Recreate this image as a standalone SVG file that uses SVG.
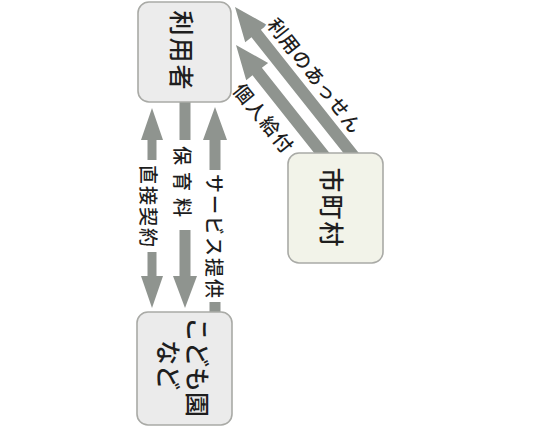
<svg xmlns="http://www.w3.org/2000/svg" width="537" height="428" viewBox="0 0 537 428">
<style>
.box{stroke:#a9aaa6;stroke-width:1.6}
.arrow{fill:#8f948f}
.nt{font-family:"Noto Sans CJK JP","Noto Sans",sans-serif;font-size:25px;font-weight:500;fill:#1e1e1e;text-anchor:middle;dominant-baseline:central}
.lt{font-family:"Noto Sans CJK JP","Noto Sans",sans-serif;font-size:19px;font-weight:500;fill:#1e1e1e;text-anchor:middle;dominant-baseline:central}
</style>
<rect width="537" height="428" fill="#fff"/>
<g id="connectors">
  <polygon class="arrow" points="152,108 163,140 156.5,140 156.5,276 163,276 152,308 141,276 147.5,276 147.5,140 141,140"/>
  <polygon class="arrow" points="179.5,100 190.5,100 190.5,276 197,276 185,308 173,276 179.5,276"/>
  <polygon class="arrow" points="215,107 227,140 220.5,140 220.5,314 209.5,314 209.5,140 203,140"/>
  <path class="arrow" transform="translate(235,7) rotate(51.5)" d="M0,0 L34,-14 L34,-6 L192,-6 L192,6 L34,6 L34,14 Z"/>
  <path class="arrow" transform="translate(236,45) rotate(51.5)" d="M0,0 L34,-14 L34,-6 L144,-6 L144,6 L34,6 L34,14 Z"/>
  <rect x="139" y="160" width="20" height="92" fill="#fff"/>
  <rect x="172" y="140" width="22" height="90" fill="#fff"/>
  <rect x="205" y="170" width="22" height="132" fill="#fff"/>
  <text class="lt" transform="translate(149,207) rotate(90)" letter-spacing="2">直接契約</text>
  <text class="lt" transform="translate(183,185) rotate(90)" letter-spacing="7">保育料</text>
  <text class="lt" transform="translate(215,237) rotate(90)" letter-spacing="2">サービス提供</text>
  <text class="lt" transform="translate(316,75) rotate(52)" letter-spacing="1" stroke="#fff" stroke-width="4" paint-order="stroke">利用のあっせん</text>
  <text class="lt" transform="translate(265,118) rotate(51)" letter-spacing="2" stroke="#fff" stroke-width="4" paint-order="stroke">個人給付</text>
</g>
<g id="user">
  <rect class="box" x="138" y="2" width="93" height="100" rx="11" fill="#ececec"/>
  <text class="nt" transform="translate(183,51) rotate(90)" letter-spacing="2">利用者</text>
</g>
<g id="city">
  <rect class="box" x="288" y="153" width="95" height="110" rx="11" fill="#f2f3e9"/>
  <text class="nt" transform="translate(333,208) rotate(90)" letter-spacing="2">市町村</text>
</g>
<g id="kodomoen">
  <rect class="box" x="137" y="312" width="95" height="113" rx="11" fill="#ebebeb"/>
  <text class="nt" transform="translate(199,367) rotate(90)">こども園</text>
  <text class="nt" transform="translate(170,365) rotate(90)">など</text>
</g>
</svg>
